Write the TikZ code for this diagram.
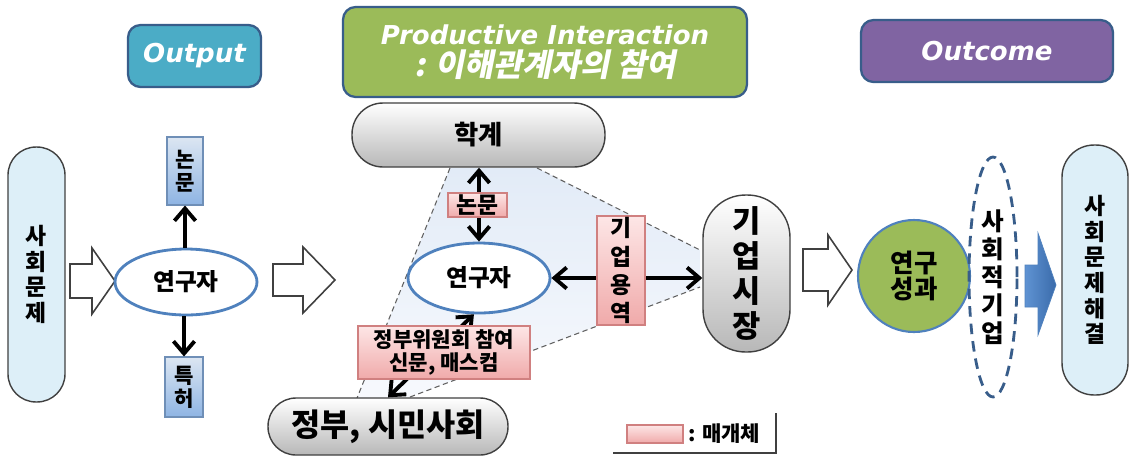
\documentclass[tikz,border=0pt]{standalone}
\usepackage{fontspec}
\usetikzlibrary{arrows.meta,shapes.geometric}
\newfontfamily\kr{Noto Sans CJK KR}
\newfontfamily\krsl{Noto Sans CJK KR}[FakeSlant=0.2]
\newfontfamily\hdr{DejaVu Sans}
\definecolor{hdrline}{HTML}{385D8A}
\definecolor{teal}{HTML}{4BACC6}
\definecolor{olive}{HTML}{9BBB59}
\definecolor{violet}{HTML}{8064A2}
\definecolor{capblue}{HTML}{DDEFF8}
\definecolor{ellblue}{HTML}{4F81BD}
\definecolor{edge}{HTML}{404040}
\definecolor{pinktop}{HTML}{FDE6E6}
\definecolor{pinkbot}{HTML}{F0AAAA}
\definecolor{pinkline}{HTML}{D08080}
\definecolor{bluetop}{HTML}{DCE6F2}
\definecolor{bluebot}{HTML}{8EB4E3}
\definecolor{blueline}{HTML}{6F8FB7}
\definecolor{areatop}{HTML}{E2EBF7}
\definecolor{areabot}{HTML}{F7F9FD}
\definecolor{dashgray}{HTML}{606060}
\definecolor{darkarrow}{HTML}{3A6BAA}
\definecolor{lightarrow}{HTML}{5F93D3}
\begin{document}
\begin{tikzpicture}[x=0.02cm,y=-0.02cm,
  hdrbox/.style={draw=hdrline, line width=1.3pt, rounded corners=0.25cm, text=white, align=center,
    font=\hdr\bfseries\itshape\fontsize{14.8}{18}\selectfont},
  bluecap/.style={draw=edge, line width=0.8pt, fill=capblue, align=center, inner sep=0pt},
  graycap/.style={draw=edge, line width=0.8pt, top color=white, bottom color=black!28, align=center, inner sep=0pt},
  resell/.style={ellipse, draw=ellblue, line width=1.6pt, fill=white, inner sep=0pt,
    minimum width=2.84cm, font=\kr\bfseries\fontsize{13.5}{15}\selectfont},
  bluebox/.style={draw=blueline, line width=0.6pt, top color=bluetop, bottom color=bluebot, align=center, inner sep=0pt,
    font=\kr\bfseries\fontsize{12}{13}\selectfont},
  pinkbox/.style={draw=pinkline, line width=0.6pt, top color=pinktop, bottom color=pinkbot, align=center, inner sep=0pt},
  link/.style={line width=2.2pt, black, {Straight Barb[length=7pt,width=12pt]}-{Straight Barb[length=7pt,width=12pt]}},
  linkone/.style={line width=2.2pt, black, -{Straight Barb[length=7pt,width=12pt]}},
  hollow/.style={draw=edge, line width=0.9pt, fill=white, line join=miter},
  dashline/.style={draw=dashgray, line width=0.6pt, dash pattern=on 3pt off 2pt}
]
\useasboundingbox (0,0) rectangle (1131,457);
\fill[white] (0,0) rectangle (1131,457);

% headers
\node[hdrbox, fill=teal, minimum width=2.66cm, minimum height=1.24cm] (hout) at (194.5,56) {Output};
\node[hdrbox, fill=olive, minimum width=8.08cm, minimum height=1.8cm] (hpi) at (545,52)
  {Productive Interaction\\{\krsl\bfseries\fontsize{18}{18}\selectfont : 이해관계자의 참여}};
\node[hdrbox, fill=violet, minimum width=5.04cm, minimum height=1.24cm] (hoc) at (987,51) {Outcome};

% shaded interaction area
\coordinate (t1) at (450,168);
\coordinate (t2) at (537,168);
\coordinate (t3) at (700,250);
\coordinate (t4) at (700,287);
\coordinate (t5) at (410,397);
\coordinate (t6) at (357,398);
\path[top color=areatop, bottom color=areabot] (t1) -- (t2) -- (t3) -- (t4) -- (t5) -- (t6) -- cycle;
\draw[dashline] (t1) -- (t6);
\draw[dashline] (t2) -- (t3);
\draw[dashline] (t5) -- (t4);

% left part
\node[bluecap, rounded corners=0.56cm, minimum width=1.14cm, minimum height=5.1cm,
  font=\kr\bfseries\fontsize{13}{14.6}\selectfont] (lcap) at (36.5,274.5) {사\\회\\문\\제};
\draw[hollow] (70,264) -- (92,264) -- (92,248) -- (115,281) -- (92,314) -- (92,298) -- (70,298) -- cycle;
\node[resell, minimum height=1.32cm] (lres) at (186,282) {연구자};
\node[bluebox, minimum width=0.72cm, minimum height=1.36cm] (lpap) at (185,171) {논\\문};
\node[bluebox, minimum width=0.76cm, minimum height=1.2cm] (lpat) at (184,387) {특\\허};
\draw[linkone] (lres.north -| lpap.south) -- (lpap.south);
\draw[linkone] (lres.south -| lpat.north) -- (lpat.north);
\draw[hollow] (273,264) -- (303,264) -- (303,247) -- (335,280) -- (303,313) -- (303,296) -- (273,296) -- cycle;

% middle part
\node[graycap, rounded corners=0.62cm, minimum width=5.06cm, minimum height=1.28cm,
  font=\kr\bfseries\fontsize{15}{16}\selectfont] (hak) at (478.5,135) {학계};
\node[resell, minimum height=1.4cm] (mres) at (479,278) {연구자};
\node[graycap, rounded corners=0.85cm, minimum width=1.74cm, minimum height=3.14cm,
  font=\kr\bfseries\fontsize{17.5}{19.8}\selectfont] (mkt) at (746.5,273.5) {기\\업\\시\\장};
\node[graycap, rounded corners=0.56cm, minimum width=4.8cm, minimum height=1.14cm,
  font=\kr\bfseries\fontsize{18}{19}\selectfont] (gov) at (388,426.5) {정부, 시민사회};

\draw[link] (mres.north |- hak.south) -- (mres.north);
\draw[link] (mres.east) -- (mres.east -| mkt.west);
\draw[link] (mres.-98) -- (gov.north);

\node[pinkbox, minimum width=1.18cm, minimum height=0.48cm,
  font=\kr\bfseries\fontsize{13}{14}\selectfont] (mpap) at (477.5,205) {논문};
\node[pinkbox, minimum width=0.96cm, minimum height=2.18cm,
  font=\kr\bfseries\fontsize{13}{16}\selectfont] (svc) at (621,270.5) {기\\업\\용\\역};
\node[pinkbox, minimum width=3.44cm, minimum height=1.06cm,
  font=\kr\bfseries\fontsize{12}{12.8}\selectfont] (med) at (444,352.5) {정부위원회 참여\\신문, 매스컴};

% legend
\node[pinkbox, minimum width=1.12cm, minimum height=0.36cm] (leg) at (655,434) {};
\node[anchor=west, inner sep=0pt, font=\kr\bfseries\fontsize{12}{13}\selectfont] (legt) at (688,434) {: 매개체};
\coordinate (s1) at (613,453);
\coordinate (s2) at (776,453);
\coordinate (s3) at (776,413);
\draw[edge, line width=1.6pt] (s1) -- (s2) -- (s3);

% right part
\draw[hollow] (803,249) -- (828,249) -- (828,235) -- (852,270) -- (828,305) -- (828,291) -- (803,291) -- cycle;
\node[circle, draw=ellblue, line width=1.2pt, fill=olive, minimum size=2.24cm, inner sep=0pt, align=center,
  font=\kr\bfseries\fontsize{14.5}{14.5}\selectfont] (res) at (914,276) {연구\\성과};
\node[ellipse, draw=hdrline, line width=1.6pt, dash pattern=on 6pt off 4pt, minimum width=0.96cm, minimum height=4.8cm,
  inner sep=0pt, align=center, font=\kr\bfseries\fontsize{14}{16}\selectfont] (soc) at (993,277) {사\\회\\적\\기\\업};
\path[left color=lightarrow, right color=darkarrow, draw=ellblue, line width=0.4pt]
  (1025,265) -- (1038,265) -- (1038,233) -- (1056,285) -- (1038,335) -- (1038,307) -- (1025,307) -- cycle;
\node[bluecap, rounded corners=0.64cm, minimum width=1.32cm, minimum height=5cm,
  font=\kr\bfseries\fontsize{13}{14.6}\selectfont] (rcap) at (1095,270) {사\\회\\문\\제\\해\\결};
\end{tikzpicture}
\end{document}
